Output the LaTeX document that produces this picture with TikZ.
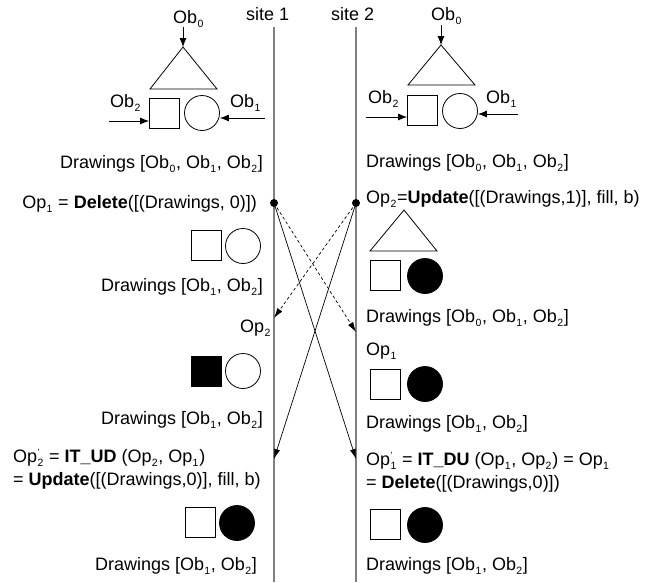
\documentclass[tikz,border=0pt]{standalone}
\usepackage{fontspec}
\setmainfont{Liberation Sans}
\usetikzlibrary{arrows.meta}
% lowered small index, and the same with a prime above it
\newcommand{\lo}[1]{\kern0.3pt\raisebox{-4pt}{\fontsize{10.5}{10.5}\selectfont #1}\kern0.7pt\relax}
\newcommand{\prlo}[1]{\rlap{\kern0.3pt\raisebox{7pt}{\fontsize{9}{9}\selectfont '}}\lo{#1}}

\begin{document}
\begin{tikzpicture}[x=1pt,y=-1pt,
  txt/.style={inner sep=0pt, font=\fontsize{18}{22}\selectfont},
  site/.style={draw=black!50, line width=1.6pt},
  sq/.style={draw, line width=0.8pt, minimum size=30pt, inner sep=0pt},
  circ/.style={draw, circle, line width=0.8pt, minimum size=35pt, inner sep=0pt},
  tri/.style={draw, line width=0.8pt, line join=miter},
  into/.style={-{Latex[length=9pt,width=7pt]}, line width=0.8pt},
  msg/.style={-{Latex[length=10pt,width=6pt]}, line width=0.7pt},
  dmsg/.style={msg, dashed, dash pattern=on 3pt off 2.5pt},
  dot/.style={fill=black}]
\useasboundingbox (0,0) rectangle (658,582);

% ---------- site time lines ----------
\node[txt, anchor=base west] (site1) at (246,20) {site 1};
\node[txt, anchor=base west] (site2) at (331,20) {site 2};
\coordinate (s1top) at (274,27);
\coordinate (s1bot) at (274,582);
\coordinate (s2top) at (356,27);
\coordinate (s2bot) at (356,582);
\draw[site] (s1top) -- (s1bot);
\draw[site] (s2top) -- (s2bot);

% ---------- site 1: initial state ----------
\coordinate (apexA) at (183,47);
\draw[tri] (apexA) -- (217,89) -- (150,89) -- cycle;
\node[sq] (sqA) at (164.5,113) {};
\node[circ] (ciA) at (202,113) {};
\node[txt, anchor=base west] (ob0A) at (173,23) {Ob\lo{0}};
\node[txt, anchor=base west] (ob2A) at (110,107) {Ob\lo{2}};
\node[txt, anchor=base west] (ob1A) at (230,107) {Ob\lo{1}};
\coordinate (ob0Aend) at (183,27);
\coordinate (ob2Aend) at (109,121);
\coordinate (ob1Aend) at (265,118);
\draw[into] (ob0Aend) -- (apexA);
\draw[into] (ob2Aend) -- (ob2Aend -| sqA.west);
\draw[into] (ob1Aend) -- (ob1Aend -| ciA.east);
\node[txt, anchor=base east] (drA1) at (263,168) {Drawings [Ob\lo{0}, Ob\lo{1}, Ob\lo{2}]};
\node[txt, anchor=base east] (op1) at (257,208) {Op\lo{1} = \textbf{Delete}([(Drawings, 0)])};

% ---------- site 2: initial state ----------
\coordinate (apexB) at (441,45);
\draw[tri] (apexB) -- (475,85) -- (408,85) -- cycle;
\node[sq] (sqB) at (422.5,110) {};
\node[circ] (ciB) at (460,111) {};
\node[txt, anchor=base west] (ob0B) at (431,20) {Ob\lo{0}};
\node[txt, anchor=base west] (ob2B) at (368,103) {Ob\lo{2}};
\node[txt, anchor=base west] (ob1B) at (486,103) {Ob\lo{1}};
\coordinate (ob0Bend) at (441,25);
\coordinate (ob2Bend) at (366,117);
\coordinate (ob1Bend) at (518,114);
\draw[into] (ob0Bend) -- (apexB);
\draw[into] (ob2Bend) -- (ob2Bend -| sqB.west);
\draw[into] (ob1Bend) -- (ob1Bend -| ciB.east);
\node[txt, anchor=base west] (drB1) at (366,167) {Drawings [Ob\lo{0}, Ob\lo{1}, Ob\lo{2}]};
\node[txt, anchor=base west] (op2) at (366,203) {Op\lo{2}=\textbf{Update}([(Drawings,1)], fill, b)};

% ---------- site 1: after Op1 ----------
\node[sq] (sqA2) at (206.5,245.5) {};
\node[circ] (ciA2) at (243,246) {};
\node[txt, anchor=base east] (drA2) at (263,291) {Drawings [Ob\lo{1}, Ob\lo{2}]};
\node[txt, anchor=base west] (op2in) at (240,332) {Op\lo{2}};

% ---------- site 1: after Op2 ----------
\node[sq, fill=black] (sqA3) at (206.5,371) {};
\node[circ] (ciA3) at (243,371) {};
\node[txt, anchor=base east] (drA3) at (263,424) {Drawings [Ob\lo{1}, Ob\lo{2}]};
\node[txt, anchor=base west] (itud) at (13,462) {Op\prlo{2} = \textbf{IT\_UD} (Op\lo{2}, Op\lo{1})};
\node[txt, anchor=base west] (upd) at (13,485) {= \textbf{Update}([(Drawings,0)], fill, b)};
\node[sq] (sqA4) at (200.5,522.5) {};
\node[circ, fill=black] (ciA4) at (237,523) {};
\node[txt, anchor=base east] (drA4) at (257,570) {Drawings [Ob\lo{1}, Ob\lo{2}]};

% ---------- site 2: after Op2 ----------
\coordinate (apexB2) at (404,210);
\draw[tri] (apexB2) -- (437,251) -- (370,251) -- cycle;
\node[sq] (sqB2) at (385,275) {};
\node[circ, fill=black] (ciB2) at (425,276) {};
\node[txt, anchor=base west] (drB2) at (366,322) {Drawings [Ob\lo{0}, Ob\lo{1}, Ob\lo{2}]};
\node[txt, anchor=base west] (op1in) at (366,355) {Op\lo{1}};

% ---------- site 2: after Op1 ----------
\node[sq] (sqB3) at (385,384) {};
\node[circ, fill=black] (ciB3) at (425,384) {};
\node[txt, anchor=base west] (drB3) at (366,428) {Drawings [Ob\lo{1}, Ob\lo{2}]};
\node[txt, anchor=base west] (itdu) at (366,465) {Op\prlo{1} = \textbf{IT\_DU} (Op\lo{1}, Op\lo{2}) = Op\lo{1}};
\node[txt, anchor=base west] (del) at (366,488) {= \textbf{Delete}([(Drawings,0)])};
\node[sq] (sqB4) at (385,524) {};
\node[circ, fill=black] (ciB4) at (425,525) {};
\node[txt, anchor=base west] (drB4) at (366,570) {Drawings [Ob\lo{1}, Ob\lo{2}]};

% ---------- operation messages ----------
\coordinate (gen1) at (274,203);
\coordinate (gen2) at (356,203);
\coordinate (arr1d) at (356,332);
\coordinate (arr2d) at (274,318);
\coordinate (arr1s) at (356,459);
\coordinate (arr2s) at (274,459);
\draw[dmsg] (gen1) -- (arr1d);
\draw[dmsg] (gen2) -- (arr2d);
\draw[msg] (gen1) -- (arr1s);
\draw[msg] (gen2) -- (arr2s);
\fill[dot] (gen1) circle (4pt);
\fill[dot] (gen2) circle (4pt);
\end{tikzpicture}
\end{document}
